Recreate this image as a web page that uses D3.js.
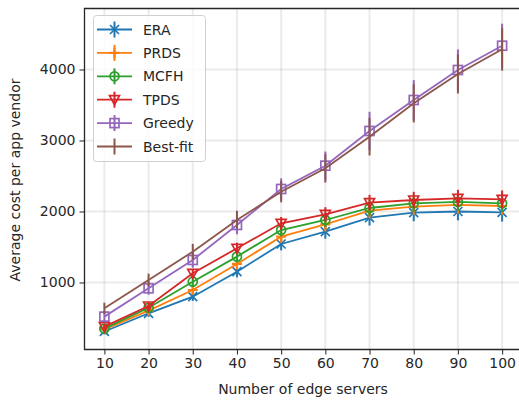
<!DOCTYPE html>
<html>
  <head>
    <meta charset="UTF-8">
    <title>Average cost per app vendor</title>
    <script src="https://d3js.org/d3.v7.min.js"></script>
    <style>
      body { margin: 0; background: #fff; }
      text { font-family: "DejaVu Sans", sans-serif; fill: #262626; }
    </style>
  </head>
  <body>
    <svg width="519" height="405"></svg>
    <script>
      // Number of edge servers
      var servers = [10, 20, 30, 40, 50, 60, 70, 80, 90, 100];

      // Average cost per app vendor, one array per approach
      var era     = [310, 566, 800, 1152, 1542, 1716, 1913, 1983, 2000, 1988];
      var prds    = [340, 603, 894, 1261, 1646, 1819, 2012, 2068, 2092, 2077];
      var mcfh    = [350, 645, 1011, 1364, 1739, 1880, 2049, 2115, 2134, 2115];
      var tpds    = [378, 669, 1129, 1481, 1833, 1960, 2124, 2162, 2185, 2171];
      var greedy  = [519, 918, 1317, 1810, 2317, 2645, 3134, 3570, 3993, 4335];
      var bestfit = [636, 1035, 1434, 1880, 2279, 2608, 3054, 3524, 3937, 4284];

      // Standard deviations (error bars)
      var eraErr     = [40, 50, 60, 80, 90, 100, 110, 120, 125, 130];
      var prdsErr    = [40, 50, 60, 80, 90, 100, 110, 115, 120, 125];
      var mcfhErr    = [40, 50, 60, 80, 90, 100, 110, 115, 120, 125];
      var tpdsErr    = [40, 50, 60, 80, 90, 100, 110, 115, 120, 125];
      var greedyErr  = [80, 90, 110, 130, 150, 200, 270, 280, 290, 310];
      var bestfitErr = [80, 90, 110, 130, 150, 200, 265, 270, 275, 300];

      var xTicks = [10, 20, 30, 40, 50, 60, 70, 80, 90, 100];
      var yTicks = [1000, 2000, 3000, 4000];

      var series = [
        {name: "ERA",      values: era,     err: eraErr,     color: "#1f77b4", marker: "x"},
        {name: "PRDS",     values: prds,    err: prdsErr,    color: "#ff7f0e", marker: "+"},
        {name: "MCFH",     values: mcfh,    err: mcfhErr,    color: "#2ca02c", marker: "o"},
        {name: "TPDS",     values: tpds,    err: tpdsErr,    color: "#d62728", marker: "v"},
        {name: "Greedy",   values: greedy,  err: greedyErr,  color: "#9467bd", marker: "s"},
        {name: "Best-fit", values: bestfit, err: bestfitErr, color: "#8c564b", marker: null}
      ];

      var svg = d3.select("svg"),
          margin = {top: 8.5, right: -3, bottom: 55.5, left: 84.5},
          width = +svg.attr("width") - margin.left - margin.right,
          height = +svg.attr("height") - margin.top - margin.bottom,
          g = svg.append("g").attr("transform", "translate(" + margin.left + "," + margin.top + ")");

      var x = d3.scaleLinear().domain([5.5, 104.5]).range([0, width]);
      var y = d3.scaleLinear().domain([56, 4859]).range([height, 0]);

      // Grid
      g.append("g").selectAll("line").data(xTicks).join("line")
          .attr("x1", d => x(d)).attr("x2", d => x(d))
          .attr("y1", 0).attr("y2", height)
          .attr("stroke", "#b0b0b0").attr("stroke-opacity", 0.25).attr("stroke-width", 2);
      g.append("g").selectAll("line").data(yTicks).join("line")
          .attr("x1", 0).attr("x2", width)
          .attr("y1", d => y(d)).attr("y2", d => y(d))
          .attr("stroke", "#b0b0b0").attr("stroke-opacity", 0.25).attr("stroke-width", 2);

      // Axes
      var xAxis = g.append("g")
          .attr("transform", "translate(0," + height + ")")
          .call(d3.axisBottom(x).tickValues(xTicks).tickFormat(d3.format("d")).tickSize(5).tickPadding(4));
      var yAxis = g.append("g")
          .call(d3.axisLeft(y).tickValues(yTicks).tickFormat(d3.format("d")).tickSize(5).tickPadding(4));
      [xAxis, yAxis].forEach(function(a) {
        a.select(".domain").remove();
        a.selectAll("line").attr("stroke", "#333").attr("stroke-width", 1.1);
        a.selectAll("text").attr("font-size", 14).attr("fill", "#262626")
          .attr("font-family", "DejaVu Sans, sans-serif");
      });

      // Spines (right one falls outside the page)
      g.append("path")
          .attr("d", "M" + width + ",0H0V" + height + "H" + width)
          .attr("fill", "none").attr("stroke", "#262626").attr("stroke-width", 1.3);

      // Marker drawing
      function drawMarker(sel, type, color) {
        if (type === "x") {
          sel.append("path").attr("d", "M-4.5,-4.5L4.5,4.5M-4.5,4.5L4.5,-4.5")
            .attr("stroke", color).attr("stroke-width", 1.7).attr("fill", "none");
        } else if (type === "+") {
          sel.append("path").attr("d", "M-5,0H5M0,-5V5")
            .attr("stroke", color).attr("stroke-width", 2.2).attr("fill", "none");
        } else if (type === "o") {
          sel.append("circle").attr("r", 4.5)
            .attr("stroke", color).attr("stroke-width", 1.7).attr("fill", "none");
        } else if (type === "v") {
          sel.append("path").attr("d", "M-5,-4L5,-4L0,5Z")
            .attr("stroke", color).attr("stroke-width", 1.7).attr("fill", "none");
        } else if (type === "s") {
          sel.append("rect").attr("x", -4.5).attr("y", -4.5).attr("width", 9).attr("height", 9)
            .attr("stroke", color).attr("stroke-width", 1.7).attr("fill", "none");
        }
      }

      var line = d3.line()
          .x(function(d, i) { return x(servers[i]); })
          .y(function(d) { return y(d); });

      series.forEach(function(s) {
        var sg = g.append("g");
        // Error bars
        sg.selectAll("line.err").data(s.values).join("line")
            .attr("class", "err")
            .attr("x1", (d, i) => x(servers[i])).attr("x2", (d, i) => x(servers[i]))
            .attr("y1", (d, i) => y(d - s.err[i])).attr("y2", (d, i) => y(d + s.err[i]))
            .attr("stroke", s.color).attr("stroke-width", 2);
        // Line
        sg.append("path")
            .datum(s.values)
            .attr("fill", "none")
            .attr("stroke", s.color)
            .attr("stroke-width", 1.8)
            .attr("d", line);
        // Markers
        if (s.marker) {
          s.values.forEach(function(v, i) {
            drawMarker(sg.append("g").attr("transform", "translate(" + x(servers[i]) + "," + y(v) + ")"),
              s.marker, s.color);
          });
        }
      });

      // Axis labels
      svg.append("text")
          .attr("x", 303).attr("y", 394)
          .attr("text-anchor", "middle").attr("font-size", 14)
          .text("Number of edge servers");
      svg.append("text")
          .attr("transform", "translate(20,180) rotate(-90)")
          .attr("text-anchor", "middle").attr("font-size", 14)
          .text("Average cost per app vendor");

      // Legend
      var legend = svg.append("g");
      legend.append("rect")
          .attr("x", 93.5).attr("y", 15.5).attr("width", 112).attr("height", 146)
          .attr("rx", 3).attr("fill", "#fff").attr("fill-opacity", 0.8)
          .attr("stroke", "#d0d0d0").attr("stroke-width", 1);
      series.forEach(function(s, i) {
        var ly = 29.5 + i * 23.4;
        var lg = legend.append("g").attr("transform", "translate(0," + ly + ")");
        lg.append("line").attr("x1", 97).attr("x2", 132).attr("y1", 0).attr("y2", 0)
            .attr("stroke", s.color).attr("stroke-width", 1.8);
        lg.append("line").attr("x1", 114.5).attr("x2", 114.5).attr("y1", -8).attr("y2", 8)
            .attr("stroke", s.color).attr("stroke-width", 2);
        if (s.marker) drawMarker(lg.append("g").attr("transform", "translate(114.5,0)"), s.marker, s.color);
        lg.append("text").attr("x", 143).attr("y", 5).attr("font-size", 14).text(s.name);
      });
    </script>
  </body>
</html>
